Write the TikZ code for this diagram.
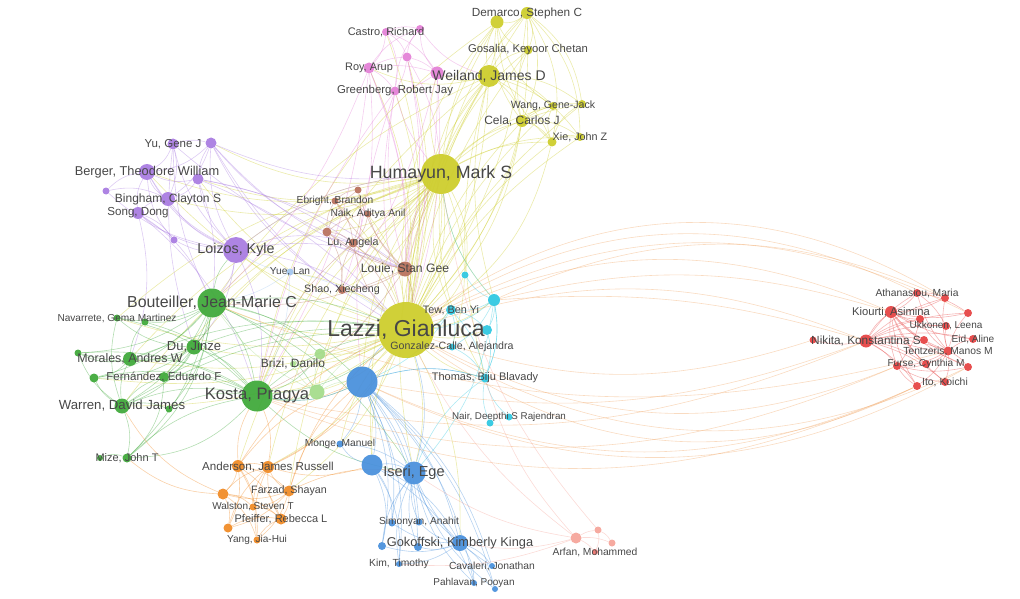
\documentclass[tikz,border=0pt]{standalone}
\usepackage{fontspec}
\setmainfont{Liberation Sans}
\pgfdeclarelayer{bg}\pgfdeclarelayer{fg}\pgfsetlayers{bg,main,fg}
\definecolor{yel}{RGB}{205,205,45}
\definecolor{pnk}{RGB}{228,130,215}
\definecolor{pur}{RGB}{170,125,225}
\definecolor{brn}{RGB}{185,115,95}
\definecolor{cya}{RGB}{50,200,225}
\definecolor{grn}{RGB}{65,170,60}
\definecolor{blu}{RGB}{75,145,220}
\definecolor{org}{RGB}{240,140,40}
\definecolor{rd}{RGB}{230,70,70}
\definecolor{prd}{RGB}{245,165,155}
\definecolor{pgr}{RGB}{165,220,140}
\definecolor{pbl}{RGB}{165,200,240}
\definecolor{arcc}{RGB}{240,165,100}
\tikzset{
  nd/.style={circle,inner sep=0pt,draw=none,fill opacity=0.95},
  lbl/.style={text=black!72,inner sep=0pt},
  edge/.style={line width=0.6pt,draw opacity=0.4}
}
\newcommand\N[7]{\node[nd,fill=#5,minimum size=#4pt] (#1) at (#2,#3) {};%
  \ifx&#6&\else\begin{pgfonlayer}{fg}\node[lbl,font=\fontsize{#7}{#7}\selectfont] (#1l) at (#2,#3) {#6};\end{pgfonlayer}\fi}
\newcommand\E[4]{\foreach \tg in {#3}{\draw[edge,draw=#1] (#2) to[bend left=#4] (\tg);}}
\begin{document}
\begin{tikzpicture}[x=1pt,y=-1pt]
\useasboundingbox (0,0) rectangle (1020,599);
% yellow
\N{laz}{406}{330}{56}{yel}{Lazzi, Gianluca}{23}
\N{hum}{441}{174}{40}{yel}{Humayun, Mark S}{17.8}
\N{wei}{489}{76}{22}{yel}{Weiland, James D}{14}
\N{dem}{527}{13}{12}{yel}{Demarco, Stephen C}{11.8}
\N{dem2}{497}{22}{13}{yel}{}{}
\N{gos}{528}{50}{9}{yel}{Gosalia, Keyoor Chetan}{11.3}
\N{wan}{553}{106}{8}{yel}{Wang, Gene-Jack}{10.6}
\N{wan2}{582}{104}{8}{yel}{}{}
\N{cel}{522}{121}{12}{yel}{Cela, Carlos J}{12}
\N{xie}{552}{142}{9}{yel}{}{}
\N{xie2}{580}{137}{8}{yel}{Xie, John Z}{10.8}
% pink
\N{cas}{386}{32}{8}{pnk}{Castro, Richard}{11}
\N{cas2}{420}{29}{8}{pnk}{}{}
\N{pk3}{407}{57}{9}{pnk}{}{}
\N{roy}{369}{68}{11}{pnk}{Roy, Arup}{10.9}
\N{gre}{395}{91}{9}{pnk}{Greenberg, Robert Jay}{11.4}
\N{pk4}{437}{73}{13}{pnk}{}{}
% purple
\N{yu}{173}{144}{11}{pur}{Yu, Gene J}{11.5}
\N{yu2}{211}{143}{11}{pur}{}{}
\N{ber}{147}{172}{16}{pur}{Berger, Theodore William}{12.8}
\N{pu3}{198}{179}{11}{pur}{}{}
\N{pu4}{106}{191}{7}{pur}{}{}
\N{bin}{168}{199}{14}{pur}{Bingham, Clayton S}{12}
\N{son}{138}{213}{12}{pur}{Song, Dong}{11.6}
\N{pu5}{174}{240}{7}{pur}{}{}
\N{loi}{236}{250}{26}{pur}{Loizos, Kyle}{14.3}
% brown
\N{ebr}{335}{201}{7}{brn}{Ebright, Brandon}{10.2}
\N{br2}{358}{190}{7}{brn}{}{}
\N{nai}{368}{214}{7}{brn}{Naik, Aditya Anil}{10.3}
\N{br3}{327}{232}{9}{brn}{}{}
\N{lu}{353}{243}{9}{brn}{Lu, Angela}{10.7}
\N{lou}{405}{269}{15}{brn}{Louie, Stan Gee}{12.2}
\N{sha}{342}{290}{8}{brn}{Shao, Xiecheng}{10.7}
% cyan
\N{cy1}{465}{275}{7}{cya}{}{}
\N{tew}{451}{310}{10}{cya}{Tew, Ben Yi}{10.8}
\N{cy2}{494}{300}{12}{cya}{}{}
\N{cy3}{487}{330}{10}{cya}{}{}
\N{gon}{452}{347}{7}{cya}{Gonzalez-Calle, Alejandra}{10.6}
\N{tho}{485}{378}{9}{cya}{Thomas, Biju Blavady}{11}
\N{nai2}{509}{417}{7}{cya}{Nair, Deepthi S Rajendran}{9.8}
\N{nai3}{490}{423}{7}{cya}{}{}
\N{yue}{290}{272}{7}{pbl}{Yue, Lan}{10.2}
% green
\N{bou}{212}{303}{29}{grn}{Bouteiller, Jean-Marie C}{15.9}
\N{nav}{117}{318}{7}{grn}{Navarrete, Gema Martinez}{10.1}
\N{nav2}{145}{322}{7}{grn}{}{}
\N{du}{194}{347}{15}{grn}{Du, Jinze}{13}
\N{mor}{130}{359}{14}{grn}{Morales, Andres W}{12.4}
\N{gr1}{78}{353}{7}{grn}{}{}
\N{fer}{164}{377}{10}{grn}{Fernández, Eduardo F}{11.5}
\N{fer2}{94}{378}{9}{grn}{}{}
\N{war}{122}{406}{15}{grn}{Warren, David James}{13.2}
\N{war2}{169}{409}{7}{grn}{}{}
\N{kos}{257}{396}{31}{grn}{Kosta, Pragya}{16.6}
\N{miz}{127}{458}{9}{grn}{Mize, John T}{11}
\N{miz2}{100}{458}{6}{grn}{}{}
\N{bri}{320}{354}{11}{pgr}{}{}
\N{bri3}{293}{364}{6}{pgr}{Brizi, Danilo}{12}
\N{bri2}{317}{392}{15}{pgr}{}{}
% blue
\N{bl1}{362}{382}{31}{blu}{}{}
\N{ise}{414}{473}{23}{blu}{Iseri, Ege}{14.5}
\N{bl2}{372}{465}{21}{blu}{}{}
\N{mon}{340}{444}{7}{blu}{Monge, Manuel}{10.2}
\N{sim}{392}{523}{7}{blu}{}{}
\N{sim2}{419}{522}{7}{blu}{Simonyan, Anahit}{10.2}
\N{gok}{460}{543}{16}{blu}{Gokoffski, Kimberly Kinga}{12.8}
\N{gok2}{382}{546}{8}{blu}{}{}
\N{gok3}{418}{547}{8}{blu}{}{}
\N{kim}{399}{564}{6}{blu}{Kim, Timothy}{10.3}
\N{cav}{492}{566}{6}{blu}{Cavaleri, Jonathan}{10.3}
\N{pah}{474}{583}{6}{blu}{Pahlavan, Pooyan}{10}
\N{pah2}{495}{589}{6}{blu}{}{}
% orange
\N{and}{238}{466}{12}{org}{}{}
\N{and2}{268}{467}{12}{org}{Anderson, James Russell}{11.6}
\N{far}{289}{491}{11}{org}{Farzad, Shayan}{10.7}
\N{or3}{223}{494}{11}{org}{}{}
\N{wal}{253}{507}{7}{org}{Walston, Steven T}{10}
\N{pfe}{281}{519}{11}{org}{Pfeiffer, Rebecca L}{11}
\N{or4}{228}{528}{9}{org}{}{}
\N{yan}{257}{540}{7}{org}{Yang, Jia-Hui}{10.1}
% red
\N{nik}{866}{341}{13}{rd}{Nikita, Konstantina S}{11.8}
\N{nik2}{813}{340}{7}{rd}{}{}
\N{ath}{917}{293}{8}{rd}{Athanasiou, Maria}{10.3}
\N{ath2}{945}{298}{8}{rd}{}{}
\N{kio}{891}{312}{12}{rd}{Kiourti, Asimina}{11.2}
\N{ukk}{920}{319}{8}{rd}{}{}
\N{ukk2}{946}{326}{8}{rd}{Ukkonen, Leena}{10}
\N{ukk3}{968}{313}{8}{rd}{}{}
\N{eid}{973}{339}{8}{rd}{Eid, Aline}{10.1}
\N{ten}{948}{351}{9}{rd}{Tentzeris, Manos M}{10.3}
\N{ten2}{924}{340}{8}{rd}{}{}
\N{fur}{897}{366}{8}{rd}{}{}
\N{fur2}{926}{364}{8}{rd}{Furse, Cynthia M}{10.1}
\N{fur3}{968}{367}{8}{rd}{}{}
\N{ito}{917}{386}{8}{rd}{}{}
\N{ito2}{945}{382}{8}{rd}{Ito, Koichi}{10.4}
% pale red
\N{arf}{576}{538}{11}{prd}{}{}
\N{arf2}{598}{530}{7}{prd}{}{}
\N{arf3}{612}{543}{7}{prd}{}{}
\N{arf4}{595}{552}{6}{prd!50!rd}{Arfan, Mohammed}{10.3}
\begin{pgfonlayer}{bg}
% yellow
\E{yel}{laz}{hum,wei,dem,dem2,gos,cel,xie,wan,xie2,wan2}{12}
\E{yel}{laz}{hum,wei,dem,cel}{-14}
\E{yel}{hum}{wei,dem,dem2,gos,cel,xie,xie2,wan,wan2,pk4}{14}
\E{yel}{hum}{kos,bou,bl1,ise,du,war,loi,lou,tew,cy2,tho,and2,fer,bri2,mor,nav,and,far,bl2}{-16}
\E{yel}{hum}{yu2,ber,pu3,bin,lu,nai,ebr,br3,sha,cy1,laz,gon}{18}
\E{yel}{wei}{dem,dem2,gos,cel,xie,xie2,wan,wan2,pk4,roy}{18}
\E{yel}{wei}{laz,lou,kos,bou,cy2,tho}{-14}
\E{yel}{dem}{dem2,gos,cel,xie,xie2,wan2,laz}{22}
\E{yel}{dem2}{gos,cel,xie,wan,laz,kos}{-22}
\E{yel}{cel}{xie,xie2,wan,wan2,gos,laz}{18}
\E{yel}{xie}{xie2,wan,wan2,laz}{22}
\E{yel}{laz}{kos,bou,bri,bri2,du,war,mor,ise,bl1,gok,and2,far,loi,pu3,ber,bri3,nav,fer2}{14}
\E{yel}{laz}{lou,lu,nai,ebr,sha,cy1,tew,cy2,cy3,gon,tho,yue,mon,bl2,roy,gre,cas,pk3}{-14}
% pink
\E{pnk}{cas}{cas2,pk3,roy,gre,pk4}{18}
\E{pnk}{cas2}{pk3,roy,gre,pk4,wei}{-18}
\E{pnk}{roy}{gre,pk3,pk4,laz,lou,kos,bou,sha}{12}
\E{pnk}{gre}{pk3,pk4,laz,lou,bl1,hum,kos}{-12}
\E{pnk}{pk3}{pk4,laz,hum,lou}{12}
\E{pnk}{pk4}{laz,lou,sha}{10}
% purple
\E{pur}{loi}{yu,yu2,ber,pu3,pu4,bin,son,pu5,bou,du,kos,lou,lu,laz,hum}{16}
\E{pur}{ber}{yu,yu2,pu3,pu4,bin,son,pu5,loi}{-18}
\E{pur}{bin}{son,yu,yu2,pu3,pu4}{-18}
\E{pur}{yu2}{yu,pu3,hum,lou,laz,sha,lu}{-14}
\E{pur}{pu3}{laz,lou,lu,bou}{12}
\E{pur}{son}{pu5,kos,mor,bou}{16}
\E{pur}{yu}{lou,bou,du}{-12}
% brown
\E{brn}{lou}{lu,br3,ebr,br2,nai,sha,laz,hum,kos,bou}{14}
\E{brn}{lu}{br3,ebr,br2,nai,sha,laz,kos}{-16}
\E{brn}{br3}{ebr,br2,nai,sha,laz}{16}
\E{brn}{ebr}{br2,nai}{18}
% cyan
\E{cya}{cy2}{tew,cy3,tho,cy1,gon,laz,hum,ise}{16}
\E{cya}{tho}{nai2,nai3,bl1,ise,tew,gon,cy3,cy2}{-16}
\E{cya}{tew}{gon,cy3,laz,bl1}{16}
\E{pbl}{yue}{laz,loi,kos,bou}{12}
% green
\E{grn}{laz}{bou,kos,du,fer,mor,war}{-14}
\E{grn}{bou}{du,mor,fer,war,kos,nav,nav2,gr1,fer2,war2,miz,loi,bri,bri2,bl1,ise}{16}
\E{grn}{kos}{du,mor,fer,war,war2,miz,bri,bri2,bl1,ise,nav,gr1,fer2,nav2,laz}{-16}
\E{grn}{du}{mor,war,fer,nav,fer2,gr1}{18}
\E{grn}{war}{mor,fer,fer2,gr1,miz,war2,nav}{16}
\E{grn}{mor}{gr1,fer2,nav2}{18}
\E{grn}{miz}{kos,bou,fer,miz2}{-22}
\E{pgr}{bri2}{bri,bri3,kos,bou,laz,bl1}{14}
% blue
\E{blu}{bl1}{ise,bl2,mon,gok,sim,sim2,gok2,gok3,kim,cav,pah,pah2,tho,laz,kos}{16}
\E{blu}{ise}{bl2,gok,sim,sim2,gok2,gok3,kim,cav,pah,pah2,mon,laz}{-16}
\E{blu}{gok}{sim,sim2,gok2,gok3,kim,cav,pah,pah2}{16}
\E{blu}{bl2}{gok,sim,gok2,kim,mon,pah}{18}
% orange
\E{org}{and}{and2,far,or3,wal,pfe,or4,yan,kos,bl1,laz}{16}
\E{org}{and2}{far,or3,wal,pfe,or4,yan,bl1,bl2,kos,laz}{-16}
\E{org}{far}{pfe,wal,or3,yan,or4,bl1,ise,laz}{16}
\E{org}{pfe}{yan,or4,or3,wal}{-18}
\E{org}{or3}{or4,yan,wal,war,miz}{18}
% red cluster
\E{rd}{nik}{nik2,ath,ath2,kio,ukk,ukk2,ukk3,eid,ten,ten2,fur,fur2,fur3,ito,ito2}{12}
\E{rd}{kio}{ath,ath2,ukk,ukk2,ukk3,eid,ten,ten2,fur,fur2,fur3,ito,ito2}{-12}
\E{rd}{ten}{ath,ath2,ukk,ukk2,ukk3,eid,fur,fur2,fur3,ito,ito2,ten2}{12}
\E{rd}{fur}{ito,ito2,fur2,fur3,ukk}{-12}
\E{rd}{ath}{ath2,ukk3,ukk2}{12}
% long arcs
\E{arcc}{laz}{ath}{29}
\E{arcc}{laz}{ath2}{33}
\E{arcc}{laz}{kio}{24}
\E{arcc}{laz}{ukk3}{27}
\E{arcc}{laz}{nik}{19}
\E{arcc}{cy2}{ath2}{24}
\E{arcc}{cy2}{kio}{15}
\E{arcc}{cy2}{nik}{10}
\E{arcc}{laz}{ito}{-31}
\E{arcc}{laz}{fur}{-25}
\E{arcc}{laz}{fur3}{-28}
\E{arcc}{laz}{nik2}{-18}
\E{arcc}{kos}{nik}{-17}
\E{arcc}{kos}{fur}{-20}
\E{arcc}{kos}{ito}{-23}
\E{arcc}{bl1}{ito}{-24}
\E{arcc}{bl1}{fur3}{-27}
\E{arcc}{bou}{ten}{-18}
\E{arcc}{bl1}{nik}{-15}
% pale red
\E{prd}{arf}{arf2,arf3,arf4,gok,ise,laz,kim,tho}{12}
\E{prd}{arf2}{arf3,arf4,hum}{16}
\end{pgfonlayer}
\end{tikzpicture}
\end{document}
